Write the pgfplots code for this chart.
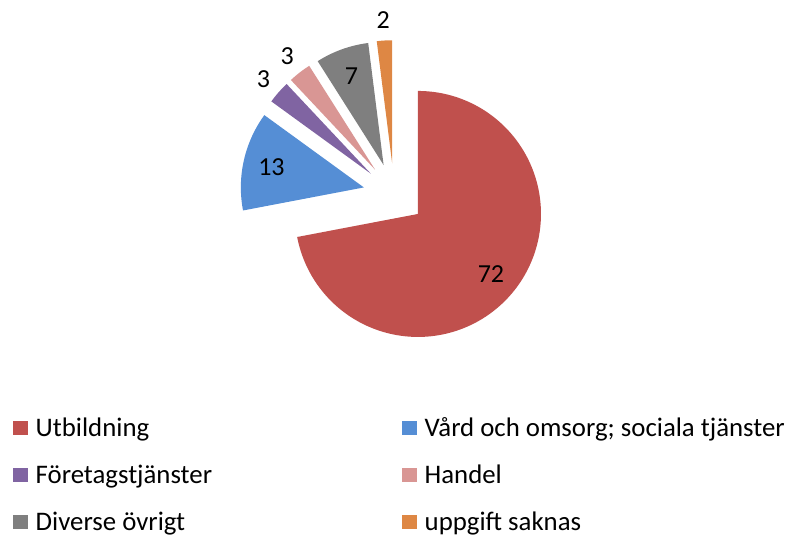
\documentclass[border=0pt]{standalone}
\usepackage{pgfplots}
\pgfplotsset{compat=1.18}
\usepackage{pgfplotstable}
\usepackage{fontspec}
\setmainfont{Carlito}

\definecolor{cA}{HTML}{C0504D}
\definecolor{cB}{HTML}{558ED5}
\definecolor{cC}{HTML}{8064A2}
\definecolor{cD}{HTML}{D99694}
\definecolor{cE}{HTML}{7F7F7F}
\definecolor{cF}{HTML}{DE8744}

\pgfplotstableread{
value
72
13
3
3
7
2
}\piedata

\def\cx{394.1}\def\cy{342.8}\def\R{123}\def\ex{31}
\xdef\cumangle{90}
\newcommand\slicedata[2]{%
  \pgfplotstablegetelem{#1}{value}\of\piedata
  \pgfmathtruncatemacro\tmpv{\pgfplotsretval}%
  \pgfmathsetmacro\tmps{\cumangle}%
  \pgfmathsetmacro\tmpe{\cumangle-3.6*\tmpv}%
  \pgfmathsetmacro\tmpm{(\tmps+\tmpe)/2}%
  \pgfmathsetmacro\tmptx{\cx+\ex*cos(\tmpm)}%
  \pgfmathsetmacro\tmpty{\cy+\ex*sin(\tmpm)}%
  \pgfmathsetmacro\tmpk{\tmpv>=5 ? 0.77 : 1.165}%
  \pgfmathsetmacro\tmplx{\tmptx+\tmpk*\R*cos(\tmpm)}%
  \pgfmathsetmacro\tmply{\tmpty+\tmpk*\R*sin(\tmpm)}%
  \expandafter\xdef\csname v#2\endcsname{\tmpv}%
  \expandafter\xdef\csname s#2\endcsname{\tmps}%
  \expandafter\xdef\csname e#2\endcsname{\tmpe}%
  \expandafter\xdef\csname tx#2\endcsname{\tmptx}%
  \expandafter\xdef\csname ty#2\endcsname{\tmpty}%
  \expandafter\xdef\csname lx#2\endcsname{\tmplx}%
  \expandafter\xdef\csname ly#2\endcsname{\tmply}%
  \xdef\cumangle{\tmpe}%
}
\slicedata{0}{A}
\slicedata{1}{B}
\slicedata{2}{C}
\slicedata{3}{D}
\slicedata{4}{E}
\slicedata{5}{F}

\begin{document}
\begin{tikzpicture}
\begin{axis}[
  scale only axis, width=789bp, height=537bp,
  xmin=0, xmax=789, ymin=0, ymax=537,
  hide axis, clip=false,
  legend columns=2,
  legend cell align=left,
  legend image code/.code={\fill[#1] (0bp,-7.2bp) rectangle (14.2bp,7.2bp);},
  legend style={at={(axis cs:13.3,124.5)}, anchor=north west, draw=none, fill=none,
    inner sep=0pt, outer sep=0pt, row sep=16bp,
    font=\fontsize{26.8bp}{32bp}\selectfont,
    nodes={inner sep=0pt, outer sep=0pt, text height=24bp, text depth=7bp},
    /tikz/every odd column/.append style={column sep=8.2bp},
    /tikz/every even column/.append style={column sep=0pt}},
  every axis plot/.append style={draw=none, samples=150, variable=\t},
]
\addplot[fill=cA, domain=\eA:\sA] ({\txA+\R*cos(t)}, {\tyA+\R*sin(t)}) -- (axis cs:\txA,\tyA) -- cycle;
\addlegendentry{\makebox[366.6bp][l]{Utbildning}}
\addplot[fill=cB, domain=\eB:\sB] ({\txB+\R*cos(t)}, {\tyB+\R*sin(t)}) -- (axis cs:\txB,\tyB) -- cycle;
\addlegendentry{Vård och omsorg; sociala tjänster}
\addplot[fill=cC, domain=\eC:\sC] ({\txC+\R*cos(t)}, {\tyC+\R*sin(t)}) -- (axis cs:\txC,\tyC) -- cycle;
\addlegendentry{\makebox[366.6bp][l]{Företagstjänster}}
\addplot[fill=cD, domain=\eD:\sD] ({\txD+\R*cos(t)}, {\tyD+\R*sin(t)}) -- (axis cs:\txD,\tyD) -- cycle;
\addlegendentry{Handel}
\addplot[fill=cE, domain=\eE:\sE] ({\txE+\R*cos(t)}, {\tyE+\R*sin(t)}) -- (axis cs:\txE,\tyE) -- cycle;
\addlegendentry{\makebox[366.6bp][l]{Diverse övrigt}}
\addplot[fill=cF, domain=\eF:\sF] ({\txF+\R*cos(t)}, {\tyF+\R*sin(t)}) -- (axis cs:\txF,\tyF) -- cycle;
\addlegendentry{uppgift saknas}
\begin{scope}[every node/.style={font=\fontsize{26bp}{31bp}\selectfont, inner sep=0pt}]
\node at (axis cs:\lxA,\lyA) {\vA};
\node at (axis cs:\lxB,\lyB) {\vB};
\node at (axis cs:\lxC,\lyC) {\vC};
\node at (axis cs:\lxD,\lyD) {\vD};
\node at (axis cs:\lxE,\lyE) {\vE};
\node at (axis cs:\lxF,\lyF) {\vF};
\end{scope}
\end{axis}
\pgfresetboundingbox
\path (current axis.south west) rectangle (current axis.north east);
\end{tikzpicture}
\end{document}
